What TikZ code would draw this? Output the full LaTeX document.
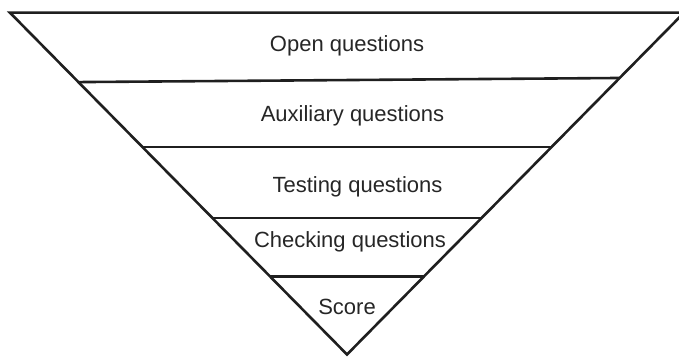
\documentclass[tikz,border=0pt]{standalone}
\usepackage{fontspec}
\setmainfont{Liberation Sans}
\usetikzlibrary{calc}
\begin{document}
\begin{tikzpicture}[x=1pt,y=1pt,
  edge/.style={line width=2.6pt,draw=black!88,line cap=butt,line join=miter},
  label/.style={anchor=base,inner sep=0pt,text=black!85,font=\fontsize{22}{26}\selectfont}]
  \useasboundingbox (0,0) rectangle (679,356);
  \clip (0,0) rectangle (679,356);
  % corners of the funnel
  \coordinate (A) at (10,343.3);
  \coordinate (B) at (684,343.3);
  \coordinate (C) at (347,1.5);
  \draw[edge] (B) -- (A) -- (C) -- cycle;
  % level dividers
  \draw[edge] ($(A)!0.203!(C)$) -- ($(B)!0.191!(C)$);
  \draw[edge] ($(A)!0.393!(C)$) -- ($(B)!0.393!(C)$);
  \draw[edge] ($(A)!0.601!(C)$) -- ($(B)!0.601!(C)$);
  \draw[edge] ($(A)!0.771!(C)$) -- ($(B)!0.771!(C)$);
  % level labels
  \node[label] (open)  at (347,304)   {Open questions};
  \node[label] (aux)   at (352.5,234) {Auxiliary questions};
  \node[label] (test)  at (357.5,163) {Testing questions};
  \node[label] (check) at (350,108)   {Checking questions};
  \node[label] (score) at (347,42)    {Score};
\end{tikzpicture}
\end{document}
